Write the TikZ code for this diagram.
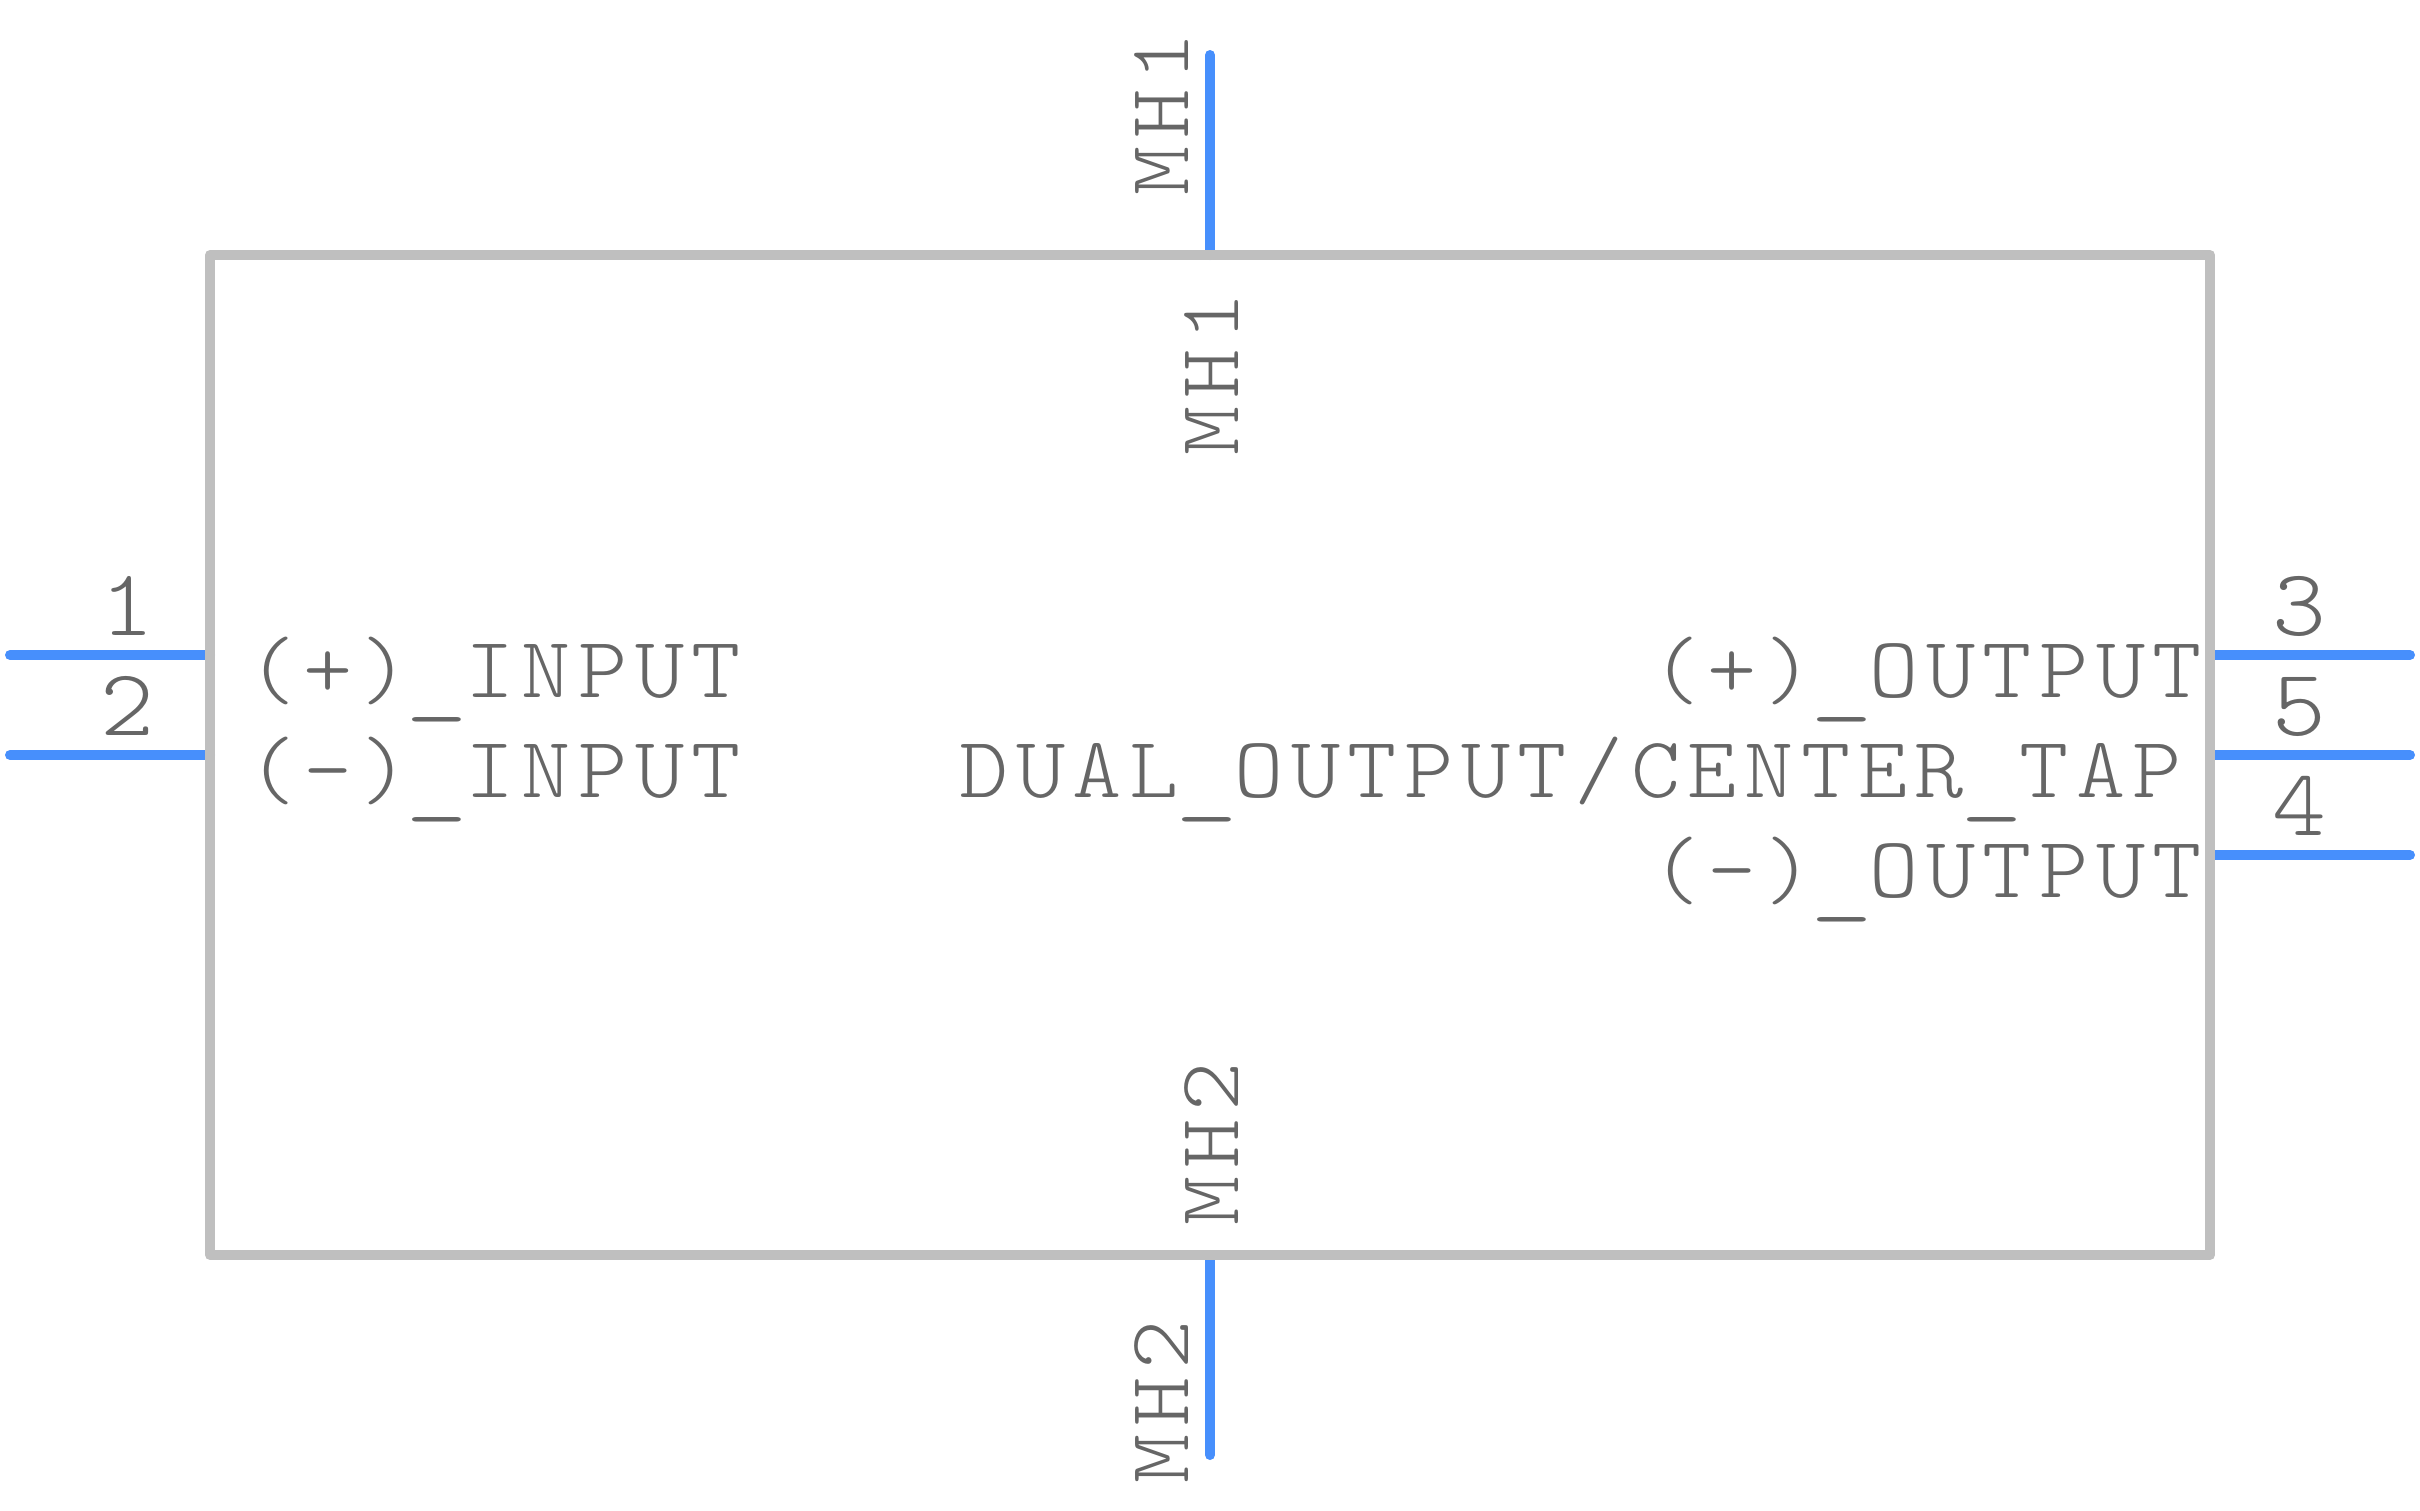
\documentclass[tikz,border=0pt]{standalone}
\usepackage{fontspec}
\usepackage{graphicx}
\newfontfamily\pinfont[FakeStretch=1.08,LetterSpace=8.7]{Latin Modern Mono Light}
\definecolor{pinblue}{HTML}{478FFC}
\definecolor{boxgray}{HTML}{BFBFBF}
\definecolor{txtgray}{HTML}{666666}
\newcommand{\lowbar}{\raisebox{-9pt}{\makebox[55.5pt][c]{\scalebox{1.28}[1]{\_}}}}
\tikzset{
  pinline/.style={draw=pinblue,line width=10pt,line cap=round},
  bodybox/.style={draw=boxgray,line width=10pt,line join=round},
  lbl/.style={inner sep=0pt,outer sep=0pt,text=txtgray,font=\fontsize{86.7pt}{86.7pt}\selectfont\pinfont},
  numlbl/.style={lbl,font=\fontsize{95pt}{95pt}\selectfont\pinfont},
}
\begin{document}
\begin{tikzpicture}[x=1pt,y=-1pt]
\useasboundingbox (0,0) rectangle (2420,1510);
\coordinate (p1a) at (10,655); \coordinate (p1b) at (210,655);
\coordinate (p2a) at (10,755); \coordinate (p2b) at (210,755);
\coordinate (p3a) at (2410,655); \coordinate (p3b) at (2210,655);
\coordinate (p5a) at (2410,755); \coordinate (p5b) at (2210,755);
\coordinate (p4a) at (2410,855); \coordinate (p4b) at (2210,855);
\coordinate (m1a) at (1210,55); \coordinate (m1b) at (1210,255);
\coordinate (m2a) at (1210,1455); \coordinate (m2b) at (1210,1255);
\foreach \a/\b in {p1a/p1b,p2a/p2b,p3a/p3b,p5a/p5b,p4a/p4b,m1a/m1b,m2a/m2b}
  \draw[pinline] (\a) -- (\b);
\node[bodybox,minimum width=2000pt,minimum height=1000pt,anchor=north west,inner sep=0pt,outer sep=0pt] (body) at (210,255) {};
\node[numlbl,anchor=base] (n1) at (127,635) {1};
\node[numlbl,anchor=base] (n2) at (127,735) {2};
\node[numlbl,anchor=base] (n3) at (2299,635) {3};
\node[numlbl,anchor=base] (n5) at (2299,735) {5};
\node[numlbl,anchor=base] (n4) at (2299,835) {4};
\node[lbl,anchor=base west] (tin1) at (247,697) {(+)\lowbar INPUT};
\node[lbl,anchor=base west] (tin2) at (247,797) {(-)\lowbar INPUT};
\node[lbl,anchor=base east] (tout1) at (2202,697) {(+)\lowbar OUTPUT};
\node[lbl,anchor=base east] (tout2) at (2182,797) {DUAL\lowbar OUTPUT/CENTER\lowbar TAP};
\node[lbl,anchor=base east] (tout3) at (2202,897) {(-)\lowbar OUTPUT};
\node[lbl,anchor=base west,rotate=90] (m1o) at (1188,195) {MH1};
\node[lbl,anchor=base west,rotate=90] (m1i) at (1238,455) {MH1};
\node[lbl,anchor=base west,rotate=90] (m2i) at (1238,1225) {MH2};
\node[lbl,anchor=base west,rotate=90] (m2o) at (1188,1483) {MH2};
\end{tikzpicture}
\end{document}
